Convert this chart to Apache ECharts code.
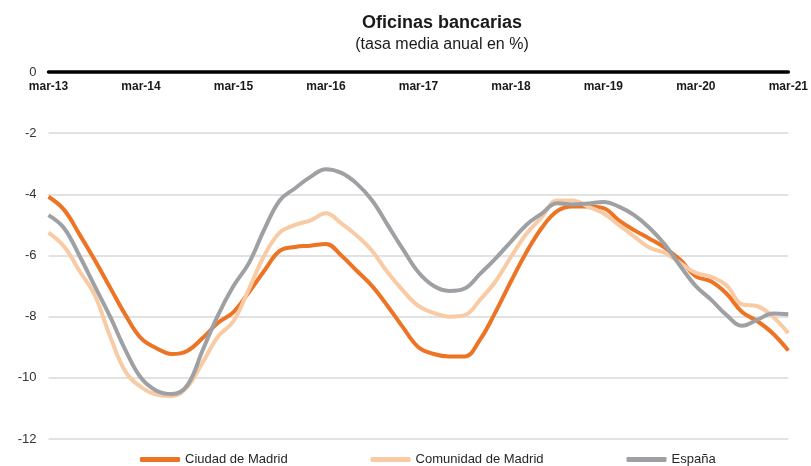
<!DOCTYPE html>
<html>
<head>
<meta charset="utf-8">
<script src="https://cdn.jsdelivr.net/npm/echarts@6/dist/echarts.min.js"></script>
<style>
  html, body { margin: 0; padding: 0; background: #fff; }
  #chart { width: 811px; height: 466px; }
</style>
</head>
<body>
<div id="chart"></div>
<script>
// bimonthly points, mar-13 .. mar-21
const meses = ["mar", "may", "jul", "sep", "nov", "ene"];
const categorias = [];
for (let i = 0; i <= 48; i++) {
  const mes = meses[i % 6];
  const yy = mes === "ene" ? 14 + Math.floor(i / 6) : 13 + Math.floor(i / 6);
  categorias.push(mes + "-" + yy);
}

const ciudadMadrid = [
  -4.08, -4.5, -5.3, -6.15, -7.05, -7.95, -8.7, -9.03, -9.22, -9.12, -8.7, -8.2,
  -7.85, -7.2, -6.5, -5.85, -5.72, -5.68, -5.62, -6.0, -6.5, -7.0, -7.65, -8.35,
  -9.0, -9.22, -9.3, -9.3, -8.75, -7.85, -6.85, -5.9, -5.1, -4.55, -4.4, -4.4,
  -4.45, -4.85, -5.17, -5.45, -5.75, -6.15, -6.68, -6.85, -7.25, -7.85, -8.15, -8.55,
  -9.11
];
const comunidadMadrid = [
  -5.25, -5.7, -6.5, -7.3, -8.65, -9.8, -10.3, -10.55, -10.6, -10.3, -9.5, -8.65,
  -8.15, -7.1, -6.0, -5.25, -5.0, -4.85, -4.62, -4.95, -5.35, -5.85, -6.55, -7.15,
  -7.65, -7.88, -8.0, -7.95, -7.45, -6.85, -6.05, -5.3, -4.75, -4.2, -4.2, -4.4,
  -4.62, -5.0, -5.38, -5.75, -5.92, -6.25, -6.57, -6.7, -6.98, -7.6, -7.66, -8.0,
  -8.54
];
const espana = [
  -4.68, -5.1, -6.0, -7.0, -8.0, -9.1, -10.0, -10.42, -10.53, -10.25, -9.1, -7.95,
  -7.0, -6.25, -5.15, -4.2, -3.8, -3.43, -3.18, -3.3, -3.65, -4.2, -5.0, -5.8,
  -6.55, -7.0, -7.16, -7.08, -6.6, -6.1, -5.55, -5.0, -4.63, -4.29, -4.33, -4.3,
  -4.25, -4.4, -4.68, -5.1, -5.65, -6.35, -7.0, -7.45, -7.95, -8.3, -8.1, -7.9,
  -7.92
];

const chart = echarts.init(document.getElementById("chart"));

const linea = (name, data, color) => ({
  name: name,
  type: "line",
  data: data,
  smooth: 0.4,
  symbol: "none",
  lineStyle: { color: color, width: 4 },
  itemStyle: { color: color }
});

chart.setOption({
  animation: false,
  textStyle: { fontFamily: "Liberation Sans, Arial, sans-serif" },
  title: {
    text: "Oficinas bancarias",
    subtext: "(tasa media anual en %)",
    left: 437,
    top: 9,
    textAlign: "center",
    itemGap: 5,
    textStyle: { fontSize: 18, fontWeight: "bold", color: "#1a1a1a" },
    subtextStyle: { fontSize: 16, color: "#1a1a1a" }
  },
  legend: {
    top: 453,
    left: 140,
    padding: 0,
    itemWidth: 40,
    itemHeight: 5,
    itemGap: 83,
    icon: "roundRect",
    textStyle: { fontSize: 13, color: "#262626" },
    data: ["Ciudad de Madrid", "Comunidad de Madrid", "España"]
  },
  grid: { left: 48.5, right: 19, top: 72, bottom: 27 },
  xAxis: {
    type: "category",
    position: "top",
    data: categorias,
    boundaryGap: false,
    axisLine: { lineStyle: { color: "#000", width: 3.5 } },
    axisTick: { show: false },
    axisLabel: {
      inside: true,
      interval: 5,
      margin: 9,
      fontSize: 12,
      fontWeight: "bold",
      color: "#1a1a1a"
    },
    splitLine: { show: false }
  },
  yAxis: {
    type: "value",
    min: -12,
    max: 0,
    interval: 2,
    axisLine: { show: false },
    axisTick: { show: false },
    axisLabel: { fontSize: 13, color: "#333", margin: 12 },
    splitLine: { lineStyle: { color: "#d9d9d9", width: 1.5 } }
  },
  series: [
    linea("Ciudad de Madrid", ciudadMadrid, "#EC7424"),
    linea("Comunidad de Madrid", comunidadMadrid, "#F9CBA5"),
    linea("España", espana, "#9EA0A3")
  ]
});
</script>
</body>
</html>
